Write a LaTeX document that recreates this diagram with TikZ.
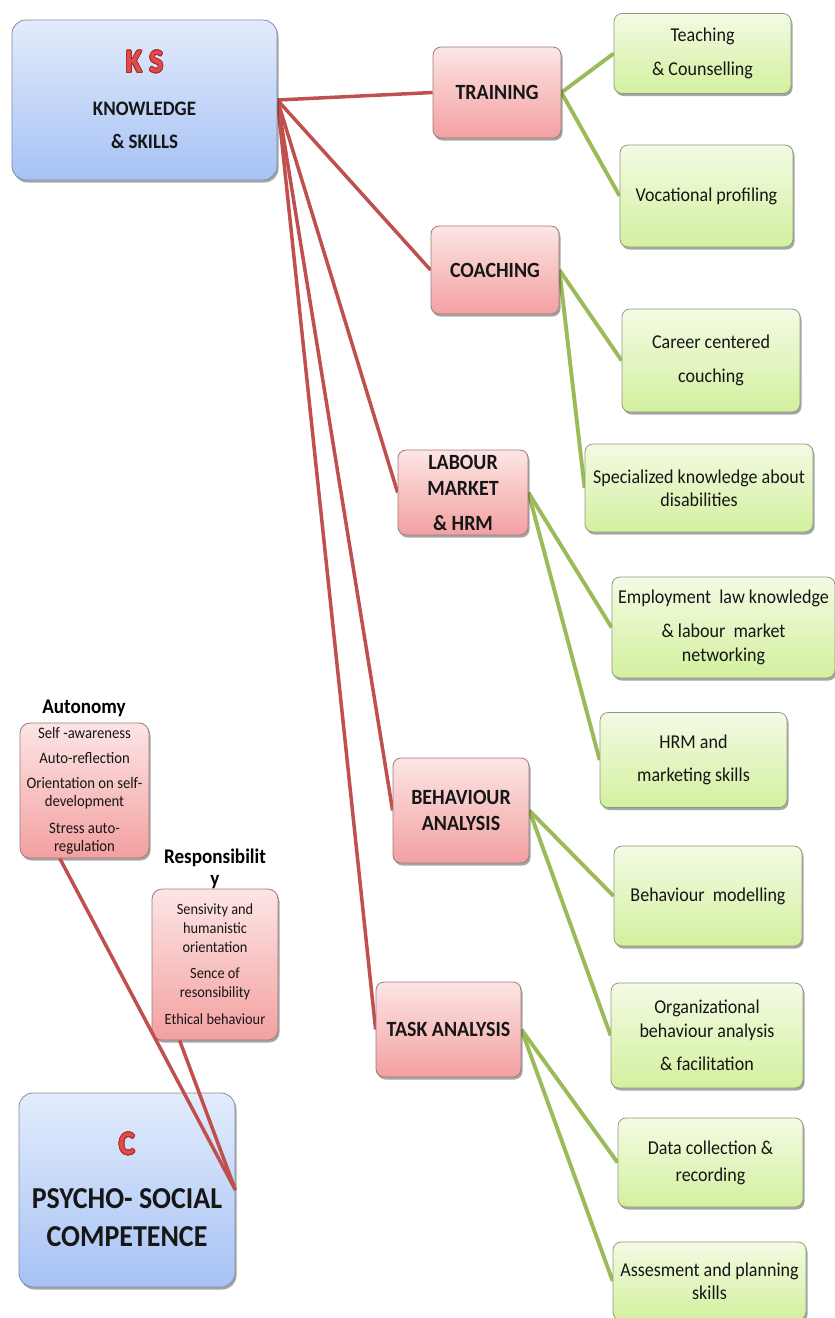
\documentclass[tikz,border=0pt]{standalone}
\usepackage{fontspec}
\setmainfont{Carlito}[FakeStretch=0.92]
\usepackage{contour}
\contourlength{0.8pt}
\contournumber{20}
\usetikzlibrary{shadows,backgrounds}
\definecolor{bluetop}{HTML}{E3ECFC}
\definecolor{bluebot}{HTML}{A6C2F4}
\definecolor{blueedge}{HTML}{7F8DA3}
\definecolor{pinktop}{HTML}{FDE5E5}
\definecolor{pinkbot}{HTML}{F3A0A0}
\definecolor{pinkedge}{HTML}{9C7A7A}
\definecolor{greentop}{HTML}{F3FBE4}
\definecolor{greenbot}{HTML}{D3F09E}
\definecolor{greenedge}{HTML}{8E9A80}
\definecolor{redconn}{HTML}{C0504D}
\definecolor{greenconn}{HTML}{9BBB59}
\definecolor{ksred}{HTML}{E34B4B}
\definecolor{ksedge}{HTML}{A82E2E}
\definecolor{txt}{HTML}{161616}
\tikzset{
  basebox/.style={draw, line width=0.8pt, align=center, inner sep=0pt, text=txt,
    drop shadow={shadow xshift=1.5pt, shadow yshift=-2.5pt, opacity=0.35, fill=black}},
  bluebox/.style={basebox, rounded corners=14pt, draw=blueedge, top color=bluetop, bottom color=bluebot},
  pinkbox/.style={basebox, rounded corners=8pt, draw=pinkedge, top color=pinktop, bottom color=pinkbot,
    font=\fontsize{21.7}{24}\selectfont\bfseries},
  psybox/.style={basebox, rounded corners=10pt, draw=pinkedge, top color=pinktop, bottom color=pinkbot},
  greenbox/.style={basebox, rounded corners=8pt, draw=greenedge, top color=greentop, bottom color=greenbot,
    font=\fontsize{19.6}{22}\selectfont},
  psylabel/.style={align=center, inner sep=0pt, text=black, font=\fontsize{20.8}{22}\selectfont\bfseries},
  redlink/.style={draw=redconn, line width=3.5pt},
  greenlink/.style={draw=greenconn, line width=3.9pt}
}
\newcommand{\bigred}[1]{{\fontsize{33}{30}\selectfont\contour{ksedge}{\textcolor{ksred}{#1}}}}
\begin{document}
\begin{tikzpicture}[x=1pt,y=-1pt]
\useasboundingbox (0,0) rectangle (835,1318);
% main boxes
\node[bluebox, minimum width=265pt, minimum height=160pt, font=\fontsize{20.6}{23}\selectfont\bfseries] (ks) at (144.5,100)
  {\bigred{K S}\\[20pt] KNOWLEDGE\\[10pt] \& SKILLS};
\node[bluebox, minimum width=216pt, minimum height=194pt, font=\fontsize{30.4}{34}\selectfont\bfseries] (c) at (127,1190)
  {\bigred{C}\\[20pt] PSYCHO- SOCIAL\\[4pt] COMPETENCE};
% psycho-social boxes
\node[psylabel] (autl) at (84,708) {Autonomy};
\node[psybox, minimum width=129pt, minimum height=135pt] (aut) at (84.5,790.5)
  {\raisebox{-9.5pt}{\parbox{125pt}{\centering\fontsize{16}{18}\selectfont Self -awareness\\[7pt] Auto-reflection\\[7pt] Orientation on self-\\ development\\[9pt] Stress auto-\\ regulation}}};
\node[psylabel] (respl) at (215,869) {Responsibilit\\y};
\node[psybox, minimum width=126pt, minimum height=151pt] (resp) at (215,964.5)
  {\raisebox{-10.5pt}{\parbox{122pt}{\centering\fontsize{15.6}{19}\selectfont Sensivity and\\ humanistic\\ orientation\\[7pt] Sence of\\ resonsibility\\[8pt] Ethical behaviour}}};
% middle boxes
\node[pinkbox, minimum width=128pt, minimum height=91pt] (train) at (497,92.5) {TRAINING};
\node[pinkbox, minimum width=128pt, minimum height=88pt] (coach) at (495,270) {COACHING};
\node[pinkbox, minimum width=130pt, minimum height=85pt] (labour) at (463,492.5) {LABOUR\\[2pt] MARKET\\[11pt] \& HRM};
\node[pinkbox, minimum width=136pt, minimum height=105pt] (behav) at (461,810.5) {BEHAVIOUR\\[2pt] ANALYSIS};
\node[pinkbox, minimum width=145pt, minimum height=95pt] (task) at (448.5,1029.5) {TASK ANALYSIS};
% right boxes
\node[greenbox, minimum width=177pt, minimum height=80pt] (teach) at (702.5,53.5) {Teaching\\[12pt] \& Counselling};
\node[greenbox, minimum width=173pt, minimum height=102pt] (voc) at (706.5,196) {Vocational profiling};
\node[greenbox, minimum width=178pt, minimum height=103pt] (career) at (711,360.5) {Career centered\\[12pt] couching};
\node[greenbox, minimum width=228pt, minimum height=88pt] (spec) at (699,488) {Specialized knowledge about\\[1pt] disabilities};
\node[greenbox, minimum width=223pt, minimum height=101pt] (employ) at (723.5,627.5) {Employment\ \ law knowledge\\[12pt] \& labour\ \ market\\[2pt] networking};
\node[greenbox, minimum width=187pt, minimum height=95pt] (hrm) at (693.5,760) {HRM and\\[11pt] marketing skills};
\node[greenbox, minimum width=188pt, minimum height=100pt] (bmod) at (708,896) {Behaviour\ \ modelling};
\node[greenbox, minimum width=192pt, minimum height=105pt] (org) at (707,1035.5) {Organizational\\[2pt] behaviour analysis\\[11pt] \& facilitation};
\node[greenbox, minimum width=185pt, minimum height=89pt] (data) at (710.5,1162.5) {Data collection \&\\[5pt] recording};
\node[greenbox, minimum width=193pt, minimum height=78pt] (assess) at (709.5,1281) {Assesment and planning\\[1pt] skills};
% connectors
\begin{scope}[on background layer]
\draw[redlink] (ks.east) -- (train.west);
\draw[redlink] (ks.east) -- (coach.west);
\draw[redlink] (ks.east) -- (labour.west);
\draw[redlink] (ks.east) -- (behav.west);
\draw[redlink] (ks.east) -- (task.west);
\draw[greenlink] (train.east) -- (teach.west);
\draw[greenlink] (train.east) -- (voc.west);
\draw[greenlink] (coach.east) -- (career.west);
\draw[greenlink] (coach.east) -- (spec.west);
\draw[greenlink] (labour.east) -- (employ.west);
\draw[greenlink] (labour.east) -- (hrm.west);
\draw[greenlink] (behav.east) -- (bmod.west);
\draw[greenlink] (behav.east) -- (org.west);
\draw[greenlink] (task.east) -- (data.west);
\draw[greenlink] (task.east) -- (assess.west);
\end{scope}
\draw[redlink] (c.east) -- (aut.250);
\draw[redlink] (c.east) -- (resp.245);
\end{tikzpicture}
\end{document}
